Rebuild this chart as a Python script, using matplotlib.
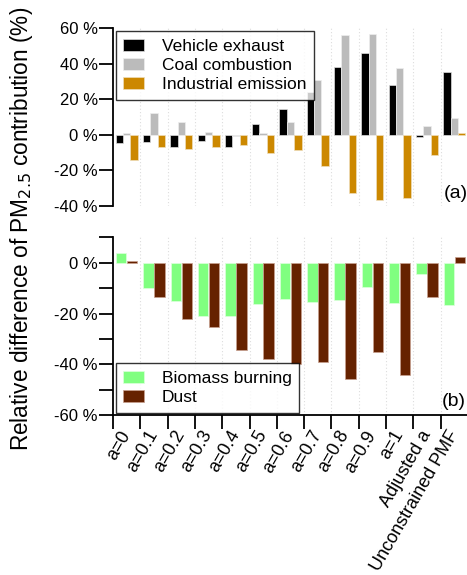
import numpy as np
import matplotlib.pyplot as plt

plt.rcParams['font.family'] = ['Liberation Sans', 'DejaVu Sans']

# categories along the x axis
labels = ['a=0', 'a=0.1', 'a=0.2', 'a=0.3', 'a=0.4', 'a=0.5', 'a=0.6',
          'a=0.7', 'a=0.8', 'a=0.9', 'a=1', 'Adjusted a', 'Unconstrained PMF']

# panel (a) relative differences (%)
vehicle = [-4.7, -4.3, -6.8, -3.6, -6.9, 6.2, 14.3, 23.8, 38.4, 45.8, 28.1, -1.3, 35.4]
coal = [0.9, 12.2, 7.3, 1.7, -0.9, 0.8, 7.1, 30.8, 56.1, 56.8, 37.7, 5.2, 9.2]
industry = [-14.4, -6.6, -7.9, -6.8, -6.0, -10.1, -8.6, -17.3, -33.0, -36.8, -35.6, -11.2, 0.8]

# panel (b) relative differences (%)
biomass = [3.8, -9.9, -14.9, -21.1, -21.1, -16.1, -14.1, -15.4, -14.5, -9.6, -16.0, -4.5, -16.7]
dust = [0.6, -13.3, -22.2, -25.3, -34.2, -37.8, -39.9, -38.9, -45.9, -35.0, -44.2, -13.6, 2.4]

yt_a = [-40, -20, 0, 20, 40, 60]
yt_b = [-60, -50, -40, -30, -20, -10, 0, 10]

x = np.arange(len(labels))

fig = plt.figure(figsize=(4.67, 5.75), dpi=100)
ax1 = fig.add_axes([0.242, 0.642, 0.76, 0.309])
ax2 = fig.add_axes([0.242, 0.278, 0.76, 0.309])

# top panel: three sources
w1 = 0.27
ax1.bar(x - w1, vehicle, w1, color='black', edgecolor='#dddddd', lw=0.5, label='Vehicle exhaust')
ax1.bar(x, coal, w1, color='#bbbbbb', edgecolor='#eeeeee', lw=0.5, label='Coal combustion')
ax1.bar(x + w1, industry, w1, color='#cc8800', edgecolor='#eeddbb', lw=0.5, label='Industrial emission')

# bottom panel: two sources
w2 = 0.38
ax2.bar(x - 0.2, biomass, w2, color='#80ff80', edgecolor='#ddffdd', lw=0.5, label='Biomass burning')
ax2.bar(x + 0.2, dust, w2, color='#662200', edgecolor='#c8a090', lw=0.5, label='Dust')

for ax in (ax1, ax2):
    ax.set_xlim(-0.5, 12.5)
    for b in x[:-1] + 0.5:
        ax.axvline(b, color='#dddddd', lw=0.8, ls=(0, (1, 2)), zorder=0)
    for s in ('top', 'right'):
        ax.spines[s].set_visible(False)
    ax.spines['left'].set_linewidth(1.3)
    ax.tick_params(axis='y', direction='out', length=10, width=1.3, pad=1, labelsize=12)

ax1.set_ylim(-40, 60)
ax1.set_yticks(yt_a)
ax1.set_yticklabels(['%d %%' % v for v in yt_a])
ax1.spines['bottom'].set_visible(False)
ax1.set_xticks([])

ax2.set_ylim(-60, 10)
ax2.set_yticks(yt_b)
ax2.set_yticklabels(['%d %%' % v if v % 20 == 0 else '' for v in yt_b])
ax2.spines['bottom'].set_linewidth(1.3)
# ticks on group boundaries, labels at group centres
ax2.set_xticks(np.arange(-0.5, 12, 1.0))
ax2.set_xticklabels([])
ax2.tick_params(axis='x', direction='out', length=10, width=1.3)
ax2.set_xticks(x, minor=True)
ax2.set_xticklabels(labels, minor=True, rotation=60, ha='right', va='center',
                    rotation_mode='anchor', fontsize=13)
ax2.tick_params(axis='x', which='minor', length=0, pad=12)

leg_kw = dict(fontsize=12.5, frameon=True, fancybox=False, edgecolor='black',
              handlelength=1.2, handleheight=0.7, borderpad=0.45, labelspacing=0.22,
              handletextpad=1.0, borderaxespad=0.15)
l1 = ax1.legend(loc='upper left', **leg_kw)
l1.get_frame().set_linewidth(1.0)
l2 = ax2.legend(loc='lower left', **leg_kw)
l2.get_frame().set_linewidth(1.0)

ax1.text(1.0, 0.02, '(a)', transform=ax1.transAxes, ha='right', va='bottom', fontsize=14)
ax2.text(0.995, 0.03, '(b)', transform=ax2.transAxes, ha='right', va='bottom', fontsize=14)

fig.text(0.045, 0.601, 'Relative difference of PM$_{2.5}$ contribution (%)',
         rotation=90, ha='center', va='center', fontsize=16.3)

fig.savefig('out.png', dpi=100)
